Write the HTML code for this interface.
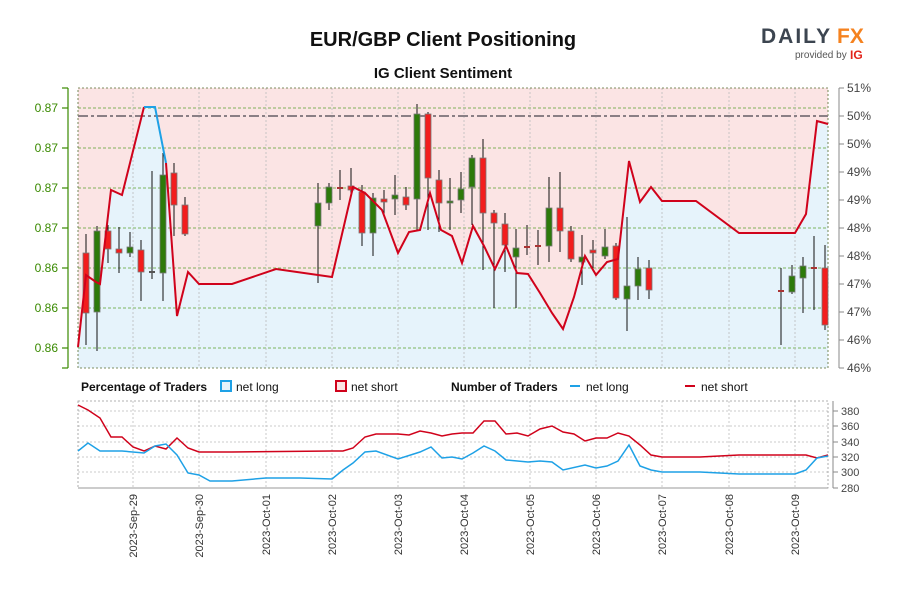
<!DOCTYPE html>
<html><head><meta charset="utf-8"><style>
html,body{margin:0;padding:0;background:#fff;}
svg{display:block;font-family:"Liberation Sans",sans-serif;}
</style></head><body>
<svg width="900" height="600" viewBox="0 0 900 600">
<text x="443" y="46" text-anchor="middle" font-size="20" font-weight="bold" fill="#111">EUR/GBP Client Positioning</text>
<text x="443" y="78" text-anchor="middle" font-size="15" font-weight="bold" fill="#111">IG Client Sentiment</text>
<text x="761" y="43" font-size="21" font-weight="bold" fill="#3c4550" letter-spacing="2">DAILY</text><text x="837" y="43" font-size="21" font-weight="bold" fill="#f5821f">FX</text>
<text x="795" y="58" font-size="10" fill="#555">provided by</text><text x="850" y="59" font-size="12" font-weight="bold" fill="#e2231a">IG</text>

<!-- main plot -->
<rect x="78" y="88" width="750" height="280" fill="#fbe4e4"/>
<polygon fill="#e6f3fb" points="78,368 78,347 86,275 96,282 100,284 111,190 122,195 144,107 155,107 166,163 177,316 188,272 199,284 232,284 276,269 332,277 353,187 365,193 382,210 398,253 409,232 420,230 430,193 441,230 452,236 462,263 473,226 484,246 495,269 506,246 517,273 528,274 540,293 552,313 563,329 574,297 585,256 596,275 607,262 618,259 629,161 640,202 651,187 662,201 696,201 739,233 795,233 806,214 817,121 828,124 828,368"/>
<g stroke="#5aa02c" stroke-width="0.8" stroke-dasharray="3,2">
<line x1="78" x2="828" y1="108" y2="108"/><line x1="78" x2="828" y1="148" y2="148"/><line x1="78" x2="828" y1="188" y2="188"/><line x1="78" x2="828" y1="228" y2="228"/><line x1="78" x2="828" y1="268" y2="268"/><line x1="78" x2="828" y1="308" y2="308"/><line x1="78" x2="828" y1="348" y2="348"/>
</g>
<g stroke="#bbb" stroke-width="0.8" stroke-dasharray="2,2">
<line x1="133" x2="133" y1="88" y2="368"/><line x1="199" x2="199" y1="88" y2="368"/><line x1="266" x2="266" y1="88" y2="368"/><line x1="332" x2="332" y1="88" y2="368"/><line x1="398" x2="398" y1="88" y2="368"/><line x1="464" x2="464" y1="88" y2="368"/><line x1="530" x2="530" y1="88" y2="368"/><line x1="596" x2="596" y1="88" y2="368"/><line x1="662" x2="662" y1="88" y2="368"/><line x1="729" x2="729" y1="88" y2="368"/><line x1="795" x2="795" y1="88" y2="368"/>
</g>
<rect x="78" y="88" width="750" height="280" fill="none" stroke="#556b2f" stroke-width="0.8" stroke-dasharray="2,2"/>
<line x1="78" x2="828" y1="116" y2="116" stroke="#8a7f85" stroke-width="2" stroke-dasharray="10,3,3,3"/>

<!-- candles -->
<g stroke="#111" stroke-width="1">
<line x1="86" x2="86" y1="234" y2="345"/><line x1="97" x2="97" y1="226" y2="351"/><line x1="108" x2="108" y1="225" y2="263"/><line x1="119" x2="119" y1="227" y2="273"/><line x1="130" x2="130" y1="232" y2="257"/><line x1="141" x2="141" y1="240" y2="301"/><line x1="152" x2="152" y1="171" y2="279"/><line x1="163" x2="163" y1="153" y2="301"/><line x1="174" x2="174" y1="163" y2="236"/><line x1="185" x2="185" y1="197" y2="236"/>
<line x1="318" x2="318" y1="183" y2="283"/><line x1="329" x2="329" y1="183" y2="210"/><line x1="340" x2="340" y1="170" y2="200"/><line x1="351" x2="351" y1="168" y2="195"/><line x1="362" x2="362" y1="185" y2="246"/><line x1="373" x2="373" y1="193" y2="256"/><line x1="384" x2="384" y1="190" y2="215"/><line x1="395" x2="395" y1="175" y2="215"/><line x1="406" x2="406" y1="187" y2="210"/><line x1="417" x2="417" y1="104" y2="230"/><line x1="428" x2="428" y1="112" y2="230"/><line x1="439" x2="439" y1="170" y2="232"/><line x1="450" x2="450" y1="178" y2="230"/><line x1="461" x2="461" y1="172" y2="213"/><line x1="472" x2="472" y1="155" y2="225"/><line x1="483" x2="483" y1="139" y2="270"/><line x1="494" x2="494" y1="210" y2="308"/><line x1="505" x2="505" y1="213" y2="272"/><line x1="516" x2="516" y1="229" y2="308"/><line x1="527" x2="527" y1="225" y2="255"/><line x1="538" x2="538" y1="230" y2="265"/><line x1="549" x2="549" y1="177" y2="262"/><line x1="560" x2="560" y1="172" y2="252"/><line x1="571" x2="571" y1="226" y2="262"/><line x1="582" x2="582" y1="235" y2="285"/><line x1="593" x2="593" y1="240" y2="268"/><line x1="605" x2="605" y1="229" y2="259"/><line x1="616" x2="616" y1="243" y2="300"/><line x1="627" x2="627" y1="217" y2="331"/><line x1="638" x2="638" y1="257" y2="300"/><line x1="649" x2="649" y1="260" y2="299"/>
<line x1="781" x2="781" y1="268" y2="345"/><line x1="792" x2="792" y1="265" y2="294"/><line x1="803" x2="803" y1="257" y2="313"/><line x1="814" x2="814" y1="236" y2="310"/><line x1="825" x2="825" y1="245" y2="330"/>
</g>
<g stroke="#777" stroke-width="0.8">
<g fill="#f21d1d">
<rect x="83" y="253" width="6" height="60"/><rect x="105" y="231" width="6" height="18"/><rect x="116" y="249" width="6" height="4"/><rect x="138" y="250" width="6" height="22"/><rect x="171" y="173" width="6" height="32"/><rect x="182" y="205" width="6" height="29"/>
<rect x="348" y="186" width="6" height="4"/><rect x="359" y="192" width="6" height="41"/><rect x="381" y="199" width="6" height="3"/><rect x="403" y="197" width="6" height="8"/><rect x="425" y="114" width="6" height="64"/><rect x="436" y="180" width="6" height="23"/><rect x="480" y="158" width="6" height="55"/><rect x="491" y="213" width="6" height="10"/><rect x="502" y="224" width="6" height="21"/><rect x="557" y="208" width="6" height="23"/><rect x="568" y="231" width="6" height="28"/><rect x="590" y="250" width="6" height="3"/><rect x="613" y="246" width="6" height="52"/><rect x="646" y="268" width="6" height="22"/><rect x="822" y="268" width="6" height="57"/>
</g>
<g fill="#2d7a0a">
<rect x="94" y="231" width="6" height="81"/><rect x="127" y="247" width="6" height="6"/><rect x="160" y="175" width="6" height="98"/>
<rect x="315" y="203" width="6" height="23"/><rect x="326" y="187" width="6" height="16"/><rect x="370" y="198" width="6" height="35"/><rect x="392" y="195" width="6" height="4"/><rect x="414" y="114" width="6" height="85"/><rect x="447" y="201" width="6" height="2"/><rect x="458" y="189" width="6" height="11"/><rect x="469" y="158" width="6" height="29"/><rect x="513" y="248" width="6" height="9"/><rect x="546" y="208" width="6" height="38"/><rect x="579" y="257" width="6" height="5"/><rect x="602" y="247" width="6" height="9"/><rect x="624" y="286" width="6" height="13"/><rect x="635" y="269" width="6" height="17"/><rect x="789" y="276" width="6" height="16"/><rect x="800" y="266" width="6" height="12"/>
</g>
</g>
<g stroke-width="2"><line x1="149" x2="155" y1="272" y2="272" stroke="#555"/><line x1="337" x2="343" y1="188" y2="188" stroke="#a33"/><line x1="524" x2="530" y1="247" y2="247" stroke="#a33"/><line x1="535" x2="541" y1="246" y2="246" stroke="#a33"/><line x1="778" x2="784" y1="291" y2="291" stroke="#a33"/><line x1="811" x2="817" y1="268" y2="268" stroke="#a33"/></g>

<polyline fill="none" stroke="#d0021b" stroke-width="2" points="78,347 86,275 96,282 100,284 111,190 122,195 144,107"/>
<polyline fill="none" stroke="#1ea1e6" stroke-width="2" points="144,107 155,107 166,163"/>
<polyline fill="none" stroke="#d0021b" stroke-width="2" points="166,163 177,316 188,272 199,284 232,284 276,269 332,277 353,187 365,193 382,210 398,253 409,232 420,230 430,193 441,230 452,236 462,263 473,226 484,246 495,269 506,246 517,273 528,274 540,293 552,313 563,329 574,297 585,256 596,275 607,262 618,259 629,161 640,202 651,187 662,201 696,201 739,233 795,233 806,214 817,121 828,124"/>

<!-- left axis -->
<g stroke="#3a8a00" stroke-width="1.2"><line x1="68" x2="68" y1="88" y2="368"/>
<line x1="62" x2="68" y1="88" y2="88"/><line x1="62" x2="68" y1="108" y2="108"/><line x1="62" x2="68" y1="148" y2="148"/><line x1="62" x2="68" y1="188" y2="188"/><line x1="62" x2="68" y1="228" y2="228"/><line x1="62" x2="68" y1="268" y2="268"/><line x1="62" x2="68" y1="308" y2="308"/><line x1="62" x2="68" y1="348" y2="348"/><line x1="62" x2="68" y1="368" y2="368"/></g>
<g font-size="12" fill="#3a8a00" text-anchor="end">
<text x="58" y="112">0.87</text><text x="58" y="152">0.87</text><text x="58" y="192">0.87</text><text x="58" y="232">0.87</text><text x="58" y="272">0.86</text><text x="58" y="312">0.86</text><text x="58" y="352">0.86</text></g>
<!-- right axis -->
<g stroke="#888" stroke-width="1"><line x1="839" x2="839" y1="88" y2="368"/>
<line x1="839" x2="844" y1="88" y2="88"/><line x1="839" x2="844" y1="116" y2="116"/><line x1="839" x2="844" y1="144" y2="144"/><line x1="839" x2="844" y1="172" y2="172"/><line x1="839" x2="844" y1="200" y2="200"/><line x1="839" x2="844" y1="228" y2="228"/><line x1="839" x2="844" y1="256" y2="256"/><line x1="839" x2="844" y1="284" y2="284"/><line x1="839" x2="844" y1="312" y2="312"/><line x1="839" x2="844" y1="340" y2="340"/><line x1="839" x2="844" y1="368" y2="368"/></g>
<g font-size="12" fill="#444">
<text x="847" y="92">51%</text><text x="847" y="120">50%</text><text x="847" y="148">50%</text><text x="847" y="176">49%</text><text x="847" y="204">49%</text><text x="847" y="232">48%</text><text x="847" y="260">48%</text><text x="847" y="288">47%</text><text x="847" y="316">47%</text><text x="847" y="344">46%</text><text x="847" y="372">46%</text></g>

<!-- legend -->
<g font-size="12" fill="#111">
<text x="81" y="391" font-weight="bold">Percentage of Traders</text>
<rect x="221" y="381" width="10" height="10" fill="#e6f3fb" stroke="#1ea1e6" stroke-width="2"/><text x="236" y="391">net long</text>
<rect x="336" y="381" width="10" height="10" fill="#fbe4e4" stroke="#d0021b" stroke-width="2"/><text x="351" y="391">net short</text>
<text x="451" y="391" font-weight="bold">Number of Traders</text>
<line x1="570" x2="580" y1="386" y2="386" stroke="#1ea1e6" stroke-width="2"/><text x="586" y="391">net long</text>
<line x1="685" x2="695" y1="386" y2="386" stroke="#d0021b" stroke-width="2"/><text x="701" y="391">net short</text>
</g>

<!-- bottom chart -->
<g stroke="#bbb" stroke-width="0.8" stroke-dasharray="2,2" fill="none">
<line x1="78" x2="828" y1="411" y2="411"/><line x1="78" x2="828" y1="426" y2="426"/><line x1="78" x2="828" y1="442" y2="442"/><line x1="78" x2="828" y1="457" y2="457"/><line x1="78" x2="828" y1="472" y2="472"/>
<line x1="133" x2="133" y1="401" y2="488"/><line x1="199" x2="199" y1="401" y2="488"/><line x1="266" x2="266" y1="401" y2="488"/><line x1="332" x2="332" y1="401" y2="488"/><line x1="398" x2="398" y1="401" y2="488"/><line x1="464" x2="464" y1="401" y2="488"/><line x1="530" x2="530" y1="401" y2="488"/><line x1="596" x2="596" y1="401" y2="488"/><line x1="662" x2="662" y1="401" y2="488"/><line x1="729" x2="729" y1="401" y2="488"/><line x1="795" x2="795" y1="401" y2="488"/>
<rect x="78" y="401" width="750" height="87" stroke="#999"/>
</g>
<line x1="78" x2="828" y1="488" y2="488" stroke="#999"/>
<polyline fill="none" stroke="#d0021b" stroke-width="1.5" points="78,405 88,410 100,418 111,437 122,437 133,447 144,451 155,446 166,449 177,438 188,448 199,452 232,452 332,451 343,451 353,448 365,437 376,434 398,434 409,435 420,431 431,433 442,436 452,434 462,433 473,433 484,421 495,421 506,434 517,433 528,436 540,429 552,426 563,432 574,434 585,441 596,438 607,438 618,433 629,436 640,445 651,455 662,457 700,457 739,455 795,455 806,455 817,458 828,455"/>
<polyline fill="none" stroke="#1ea1e6" stroke-width="1.5" points="78,451 88,443 100,451 122,451 144,453 155,446 166,444 177,455 188,473 199,475 210,481 232,481 266,478 300,478 332,479 343,470 353,463 365,452 376,451 398,459 420,452 431,447 442,458 452,457 462,459 473,453 484,446 495,451 506,460 528,462 540,461 552,462 563,470 585,465 596,468 607,466 618,461 629,445 640,466 651,470 662,472 700,472 739,474 795,474 806,470 817,458 828,456"/>
<g stroke="#888"><line x1="833" x2="833" y1="401" y2="488"/><line x1="833" x2="838" y1="411" y2="411"/><line x1="833" x2="838" y1="426" y2="426"/><line x1="833" x2="838" y1="442" y2="442"/><line x1="833" x2="838" y1="457" y2="457"/><line x1="833" x2="838" y1="472" y2="472"/><line x1="833" x2="838" y1="488" y2="488"/></g>
<g font-size="11" fill="#444"><text x="841" y="415">380</text><text x="841" y="430">360</text><text x="841" y="446">340</text><text x="841" y="461">320</text><text x="841" y="476">300</text><text x="841" y="492">280</text></g>
<g font-size="11" fill="#333" text-anchor="end">
<text transform="translate(137,494) rotate(-90)">2023-Sep-29</text>
<text transform="translate(203,494) rotate(-90)">2023-Sep-30</text>
<text transform="translate(270,494) rotate(-90)">2023-Oct-01</text>
<text transform="translate(336,494) rotate(-90)">2023-Oct-02</text>
<text transform="translate(402,494) rotate(-90)">2023-Oct-03</text>
<text transform="translate(468,494) rotate(-90)">2023-Oct-04</text>
<text transform="translate(534,494) rotate(-90)">2023-Oct-05</text>
<text transform="translate(600,494) rotate(-90)">2023-Oct-06</text>
<text transform="translate(666,494) rotate(-90)">2023-Oct-07</text>
<text transform="translate(733,494) rotate(-90)">2023-Oct-08</text>
<text transform="translate(799,494) rotate(-90)">2023-Oct-09</text>
</g>
</svg>
</body></html>
